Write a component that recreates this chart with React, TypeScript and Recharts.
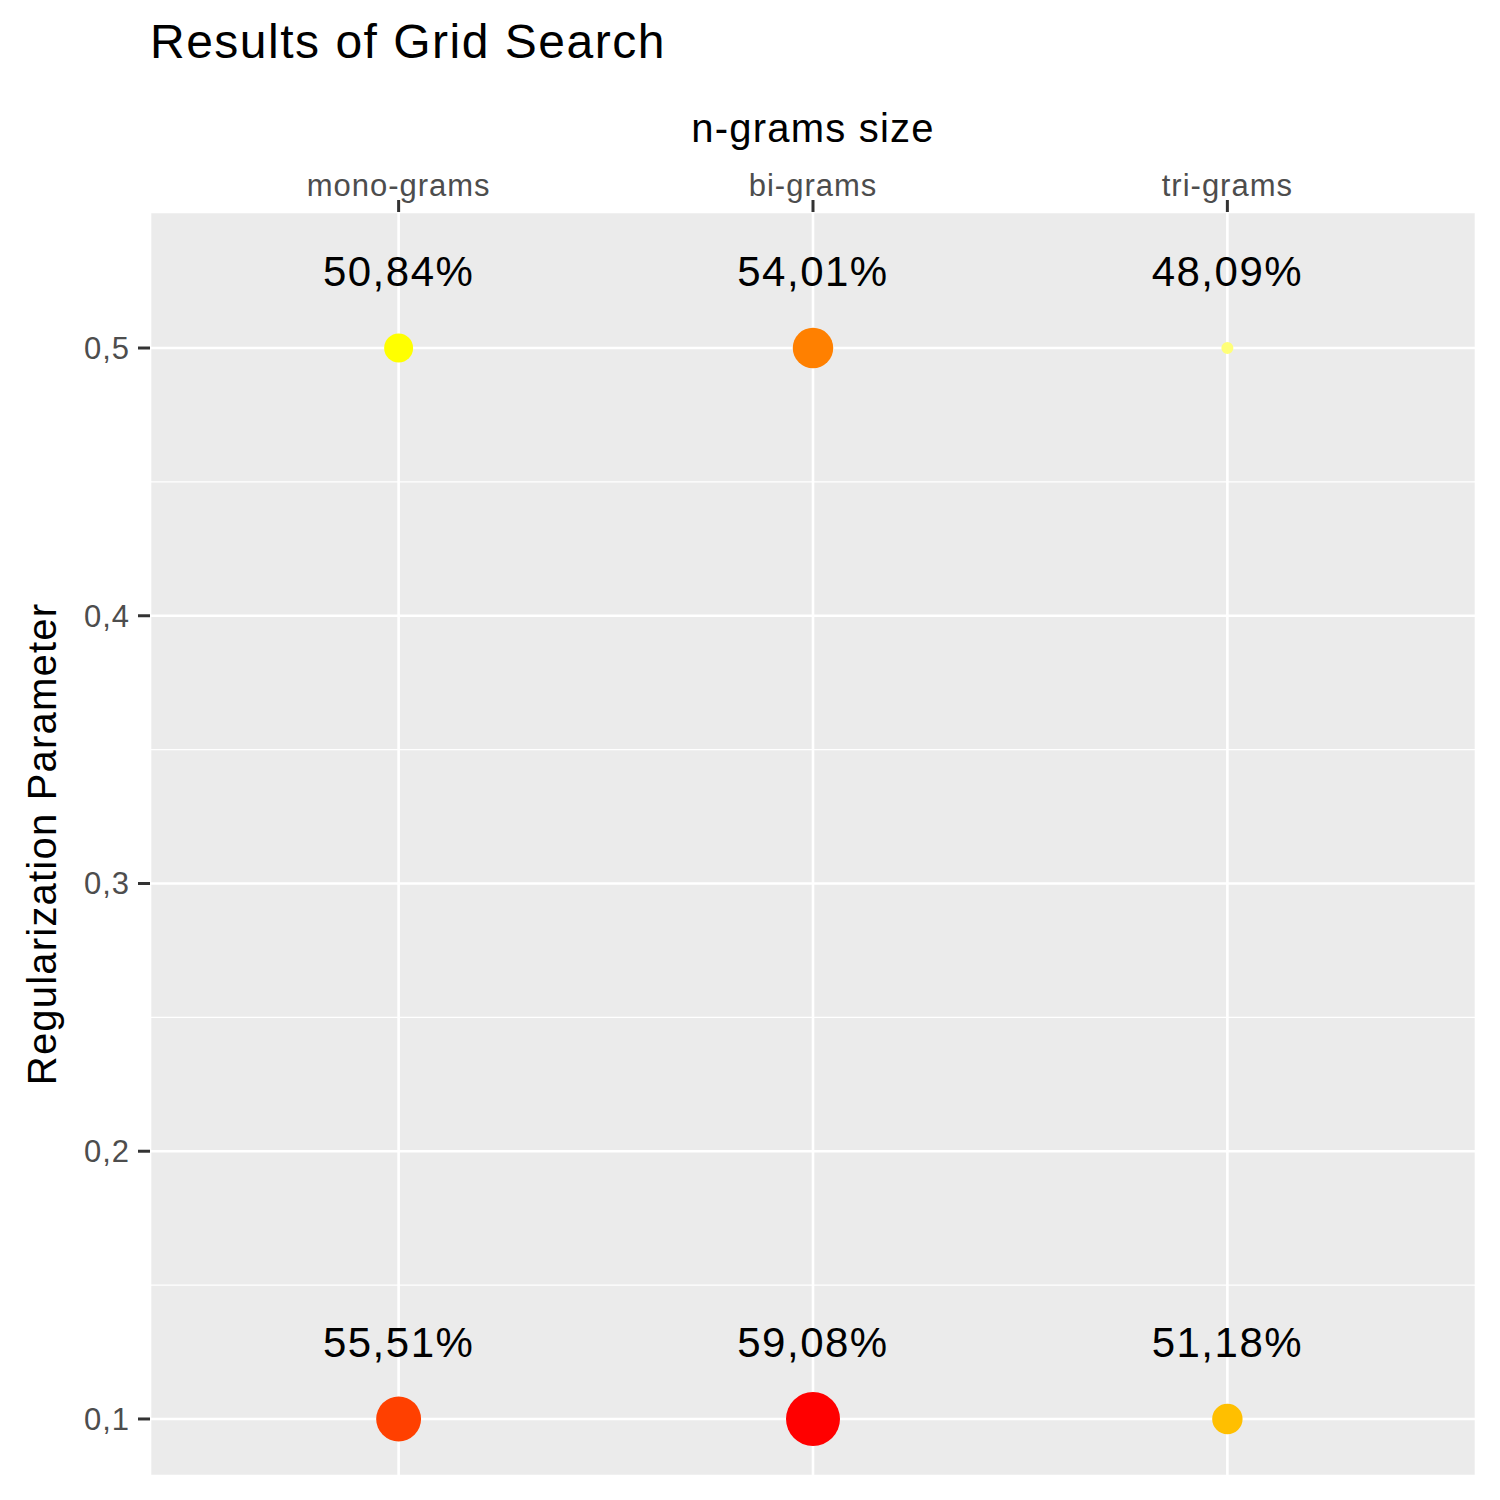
import { ScatterChart, Scatter, XAxis, YAxis, ZAxis, CartesianGrid, ReferenceLine, LabelList, Cell } from 'recharts';

// grid search results
const ngrams = ['mono-grams', 'bi-grams', 'tri-grams'];
const regParams = [0.5, 0.1];
const accAt05 = [50.84, 54.01, 48.09];
const accAt01 = [55.51, 59.08, 51.18];
const yTicks = [0.1, 0.2, 0.3, 0.4, 0.5];
const yMinor = [0.15, 0.25, 0.35, 0.45];

const points = [
  ...accAt05.map((acc, i) => ({ x: i + 1, y: regParams[0], acc })),
  ...accAt01.map((acc, i) => ({ x: i + 1, y: regParams[1], acc })),
];

const minAcc = Math.min(...points.map((p) => p.acc));
const maxAcc = Math.max(...points.map((p) => p.acc));

// pale yellow -> yellow -> orange -> red
const colorFor = (acc: number) => {
  const t = (acc - minAcc) / (maxAcc - minAcc);
  const stops: [number, number, number, number][] = [
    [0, 255, 255, 120],
    [0.25, 255, 255, 0],
    [0.28, 255, 191, 0],
    [0.54, 255, 128, 0],
    [0.675, 255, 64, 0],
    [1, 255, 0, 0],
  ];
  for (let i = 1; i < stops.length; i++) {
    if (t <= stops[i][0]) {
      const a = stops[i - 1];
      const b = stops[i];
      const f = (t - a[0]) / (b[0] - a[0]);
      const c = (k: number) => Math.round(a[k] + (b[k] - a[k]) * f);
      return `rgb(${c(1)},${c(2)},${c(3)})`;
    }
  }
  return 'rgb(255,0,0)';
};

const font = 'Liberation Sans, Arial, sans-serif';

export default function App() {
  return (
    <div style={{ position: 'absolute', left: 0, top: 0, width: 1500, height: 1500, background: '#fff', fontFamily: font }}>
      <div style={{ position: 'absolute', left: 150, top: 14, fontSize: 48, letterSpacing: 1.5 }}>Results of Grid Search</div>
      <div style={{ position: 'absolute', left: 150, width: 1326, top: 106, fontSize: 40, letterSpacing: 1.2, textAlign: 'center' }}>n-grams size</div>
      <div
        style={{
          position: 'absolute', left: 42, top: 844, fontSize: 40, letterSpacing: 1.2, whiteSpace: 'nowrap',
          transform: 'translate(-50%, -50%) rotate(-90deg)',
        }}
      >
        Regularization Parameter
      </div>
      <ScatterChart width={1500} height={1500} margin={{ top: 162, right: 24, bottom: 24, left: 70 }}>
        <CartesianGrid stroke="#fff" strokeWidth={2.6} fill="#ebebeb" fillOpacity={1} />
        {yMinor.map((v) => (
          <ReferenceLine key={v} y={v} stroke="#fff" strokeWidth={1.3} />
        ))}
        <XAxis
          type="number"
          dataKey="x"
          orientation="top"
          domain={[0.4, 3.6]}
          ticks={[1, 2, 3]}
          tickFormatter={(v: number) => ngrams[v - 1]}
          height={50}
          axisLine={false}
          stroke="#333"
          tickSize={12}
          tickMargin={4}
          tickLine={{ stroke: '#333', strokeWidth: 3 }}
          tick={{ fill: '#4d4d4d', fontSize: 31, letterSpacing: 1, fontFamily: font }}
        />
        <YAxis
          type="number"
          dataKey="y"
          domain={[0.0787, 0.5508]}
          ticks={yTicks}
          tickFormatter={(v: number) => v.toFixed(1).replace('.', ',')}
          width={80}
          axisLine={false}
          stroke="#333"
          tickSize={12}
          tickMargin={8}
          tickLine={{ stroke: '#333', strokeWidth: 3 }}
          tick={{ fill: '#4d4d4d', fontSize: 31, letterSpacing: 1, fontFamily: font }}
        />
        <ZAxis type="number" dataKey="acc" domain={[minAcc, maxAcc]} range={[113, 2290]} />
        <Scatter data={points} isAnimationActive={false}>
          {points.map((p, i) => (
            <Cell key={i} fill={colorFor(p.acc)} />
          ))}
          <LabelList
            dataKey="acc"
            content={(props: any) => (
              <text
                x={props.x + props.width / 2}
                y={props.y + props.height / 2 - 62}
                textAnchor="middle"
                fontSize={42}
                letterSpacing={1.5}
                fontFamily={font}
                fill="#000"
              >
                {props.value.toFixed(2).replace('.', ',') + '%'}
              </text>
            )}
          />
        </Scatter>
      </ScatterChart>
    </div>
  );
}
